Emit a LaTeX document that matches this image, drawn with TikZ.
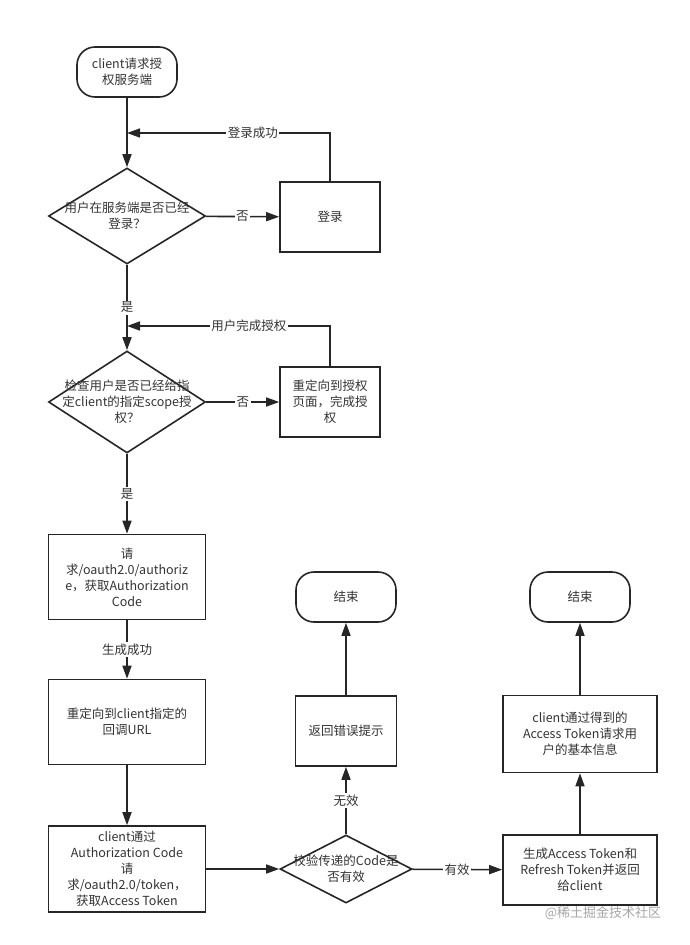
\documentclass[tikz,border=0pt]{standalone}
\usepackage{fontspec}
\setmainfont{Noto Sans CJK SC}
\usetikzlibrary{shapes.geometric,arrows.meta}

\begin{document}
\begin{tikzpicture}[x=1pt,y=-1pt,
    font=\fontsize{12.5}{16}\selectfont,
    termnode/.style={rectangle, rounded corners=18pt, draw=black!85, line width=1.6pt, minimum width=100pt, minimum height=50pt, align=center, text=black!80, inner sep=1pt},
    boxnode/.style={rectangle, draw=black!85, line width=1.6pt, align=center, text=black!80, inner sep=1pt},
    decnode/.style={diamond, draw=black!85, line width=1.6pt, inner sep=0pt, aspect=1.6},
    flow/.style={-{Triangle[length=13pt,width=9pt]}, line width=1.6pt, draw=black!85},
    lbl/.style={fill=white, inner sep=1.5pt, text=black!80}
    ]
    \useasboundingbox (0,0) rectangle (689,945);

     \node [termnode] (start) at (127,72) {client请求授\\权服务端};
     \node [decnode,minimum width=157pt,minimum height=96pt,label={[align=center,text=black!80]center:用户在服务端是否已经\\登录？}] (d1) at (127,216) {};
     \node [boxnode,minimum width=100pt,minimum height=70pt] (login) at (330,217) {登录};
     \coordinate (j1) at (127,133);

     \node [decnode,minimum width=157pt,minimum height=102pt,label={[align=center,text=black!80]center:检查用户是否已经给指\\定client的指定scope授\\权？}] (d2) at (127,402) {};
     \node [boxnode,minimum width=100pt,minimum height=70pt] (grant) at (330,402) {重定向到授权\\页面，完成授\\权};
     \coordinate (j2) at (127,326);

    \node [boxnode,minimum width=157pt,minimum height=85pt] (auth) at (127,577) {请\\求/oauth2.0/authoriz\\e，获取Authorization\\Code};
    \node [boxnode,minimum width=157pt,minimum height=85pt] (redir) at (127,722) {重定向到client指定的\\回调URL};
    \node [boxnode,minimum width=157pt,minimum height=86pt] (token) at (127,869) {client通过\\Authorization Code\\请\\求/oauth2.0/token，\\获取Access Token};

    \node [decnode,minimum width=132pt,minimum height=68pt,label={[align=center,text=black!80]center:校验传递的Code是\\否有效}] (d3) at (346,869) {};
    \node [boxnode,minimum width=101pt,minimum height=70pt] (err) at (346,731) {返回错误提示};
    \node [termnode] (end1) at (346,597) {结束};

    \node [boxnode,minimum width=154pt,minimum height=70pt] (gen) at (580,870) {生成Access Token和\\Refresh Token并返回\\给client};
    \node [boxnode,minimum width=154pt,minimum height=77pt] (info) at (580,734) {client通过得到的\\Access Token请求用\\户的基本信息};
    \node [termnode] (end2) at (580,597) {结束};

    \node [text=black!35,font=\fontsize{13}{16}\selectfont] (mark) at (603,913) {@稀土掘金技术社区};

    \draw [flow] (start) -- (d1);
    \draw [flow] (d1) -- node[lbl]{否} (login);
    \draw [flow] (login) |- node[lbl,pos=0.69]{登录成功} (j1);

    \draw [flow] (d1) -- node[lbl,pos=0.5]{是} (d2);
    \draw [flow] (d2) -- node[lbl]{否} (grant);
    \draw [flow] (grant) |- node[lbl,pos=0.7]{用户完成授权} (j2);

    \draw [flow] (d2) -- node[lbl]{是} (auth);
    \draw [flow] (auth) -- node[lbl]{生成成功} (redir);
    \draw [flow] (redir) -- (token);
    \draw [flow] (token) -- (d3);

    \draw [flow] (d3) -- node[lbl]{无效} (err);
    \draw [flow] (err) -- (end1);

    \draw [flow] (d3) -- node[lbl]{有效} (gen);
    \draw [flow] (gen) -- (info);
    \draw [flow] (info) -- (end2);

  \end{tikzpicture}
\end{document}
